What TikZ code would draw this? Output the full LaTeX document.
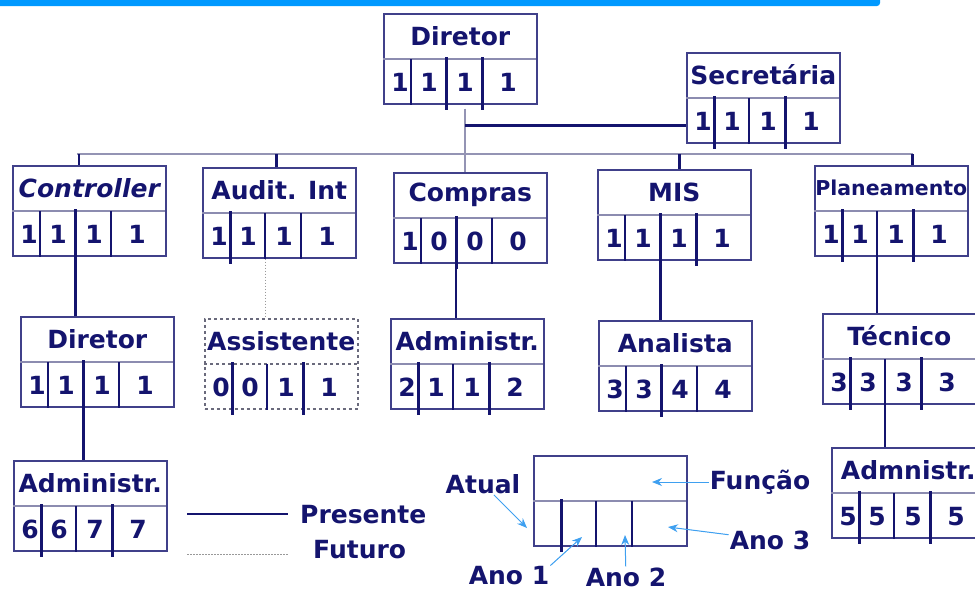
\documentclass[tikz,border=0pt]{standalone}
\usepackage{fontspec}
\setmainfont{DejaVu Sans}
\usetikzlibrary{calc,arrows.meta}

\definecolor{marinho}{HTML}{14146E}
\definecolor{moldura}{HTML}{40408A}
\definecolor{divisao}{HTML}{8C8CB0}
\definecolor{cinzento}{HTML}{9494B4}
\definecolor{celeste}{HTML}{0099FF}
\definecolor{azulseta}{HTML}{3FA0F0}

\tikzset{
	caixa/.style={draw=moldura, line width=1.6pt, minimum width=153pt, minimum height=90pt, inner sep=0pt, anchor=north west},
	linhadiv/.style={draw=divisao, line width=1.2pt},
	rotulo/.style={text=marinho, inner sep=1pt, font=\fontsize{25}{28}\selectfont\bfseries},
	grosso/.style={draw=marinho, line width=3pt},
	fino/.style={draw=marinho, line width=1.4pt},
	grossa/.style={grosso, shorten <=-2pt, shorten >=-5pt},
	fina/.style={fino},
	barramento/.style={draw=cinzento, line width=1.3pt},
	pontilhado/.style={draw=gray!80, line width=0.9pt, dash pattern=on 1.5pt off 1.5pt},
	seta/.style={-{Stealth[length=10pt,width=8pt]}, draw=azulseta, fill=azulseta, line width=1pt}
}

% caixa: [estilo]{nome}{x,y}{funcao}{numeros}{divisorias}
\newcommand{\caixa}[6][]{%
	\node[caixa,#1] (#2) at (#3) {};
	\coordinate (#2-h) at ($(#2.north west)+(0,46)$);
	\draw[linhadiv,#1] (#2-h) -- ++(153,0);
	\node[rotulo] (#2-t) at ($(#2.north)+(0,23)$) {#4};
	\foreach \s [count=\i] in {#6} {
		\pgfmathsetmacro\dx{{28,63,99}[\i-1]}
		\coordinate (#2-d\i) at ($(#2.south west)+(\dx,0)$);
		\draw[\s] ($(#2-h)+(\dx,0)$) -- (#2-d\i);
	}
	\foreach \n [count=\i] in {#5} {
		\pgfmathsetmacro\dx{{17,46,82,125}[\i-1]}
		\node[rotulo] (#2-n\i) at ($(#2.south west)+(\dx,-22)$) {\n};
	}
}

\begin{document}
\begin{tikzpicture}[>=stealth, x=1pt, y=-1pt]
	\useasboundingbox (0,0) rectangle (975,592);
	\fill[celeste, rounded corners=3pt] (-5,-5) rectangle (880,6);

	% Caixas
	\caixa{dir}{383,13}{Diretor}{1,1,1,1}{fina,grossa,grossa}
	\caixa{sec}{686,52}{Secretária}{1,1,1,1}{grossa,fina,grossa}
	\caixa{ctrl}{12,165}{\itshape Controller}{1,1,1,1}{fina,grossa,fina}
	\caixa{aud}{202,167}{Audit. Int}{1,1,1,1}{grossa,fina,fina}
	\caixa{comp}{393,172}{Compras}{1,0,0,0}{fina,grossa,fina}
	\caixa{mis}{597,169}{MIS}{1,1,1,1}{fina,grossa,grossa}
	\caixa{plan}{814,165}{\fontsize{20.5}{24}\selectfont Planeamento}{1,1,1,1}{grossa,fina,grossa}
	\caixa{dir2}{20,316}{Diretor}{1,1,1,1}{fina,grossa,fina}
	\caixa[draw=gray!80!marinho, dashed]{assis}{204,318}{Assistente}{0,0,1,1}{grossa,fina,grossa}
	\caixa{adm1}{390,318}{Administr.}{2,1,1,2}{grossa,fina,grossa}
	\caixa{anal}{598,320}{Analista}{3,3,4,4}{fina,grossa,fina}
	\caixa{tec}{822,313}{Técnico}{3,3,3,3}{grossa,fina,grossa}
	\caixa{adm0}{13,460}{Administr.}{6,6,7,7}{grossa,fina,grossa}
	\caixa{adm5}{831,447}{Admnistr.}{5,5,5,5}{grossa,fina,grossa}
	\caixa{leg}{533,455}{}{}{grossa,fina,fina}

	% Ligações ao diretor
	\coordinate (eixo) at ($(dir.south west)+(82,4)$);
	\coordinate (sec-e) at ($(sec.north west)+(0,73)$);
	\draw[barramento] (eixo) -- (eixo |- comp.north);
	\draw[grosso] (eixo |- sec-e) -- (sec-e);

	% Barramento
	\coordinate (b-ctrl) at (79,154);
	\coordinate (b-aud) at (276,154);
	\coordinate (b-mis) at (679,154);
	\coordinate (b-plan) at (912,154);
	\draw[barramento] ([xshift=-2pt]b-ctrl) -- ([xshift=1pt]b-plan);
	\draw[fino] (b-ctrl) -- (b-ctrl |- ctrl.north);
	\draw[grosso] (b-aud) -- (b-aud |- aud.north);
	\draw[grosso] (b-mis) -- (b-mis |- mis.north);
	\draw[grosso] (b-plan) -- (b-plan |- plan.north);

	% Subordinados
	\draw[grosso] (ctrl-d2) -- (ctrl-d2 |- dir2.north);
	\draw[grosso] (dir2-d2) -- (dir2-d2 |- adm0.north);
	\draw[pontilhado] (aud-d2) -- (aud-d2 |- assis.north);
	\draw[fino] (comp-d2) -- (comp-d2 |- adm1.north);
	\draw[grosso] (mis-d2) -- (mis-d2 |- anal.north);
	\draw[fino] (plan-d2) -- (plan-d2 |- tec.north);
	\draw[fino] (tec-d2) -- (tec-d2 |- adm5.north);

	% Legenda
	\node[rotulo, anchor=west] (pres) at (299,515) {Presente};
	\node[rotulo, anchor=west] (fut) at (312,550) {Futuro};
	\coordinate (p1) at (187,514);
	\coordinate (f1) at (187,554);
	\draw[fino] (p1) -- (p1 -| 288,0);
	\draw[pontilhado] (f1) -- (f1 -| 288,0);

	\node[rotulo] (atual) at (483,484) {Atual};
	\node[rotulo] (funcao) at (760,482) {Função};
	\node[rotulo] (ano3) at (770,540) {Ano 3};
	\node[rotulo] (ano1) at (509,576) {Ano 1};
	\node[rotulo] (ano2) at (626,577) {Ano 2};
	\coordinate (alvo-a) at (527,528);
	\coordinate (alvo-f) at (652,482);
	\coordinate (alvo-3) at (668,527);
	\coordinate (alvo-1) at (582,537);
	\coordinate (alvo-2) at (625,535);
	\draw[seta] (atual) -- (alvo-a);
	\draw[seta] (funcao) -- (alvo-f);
	\draw[seta] (ano3) -- (alvo-3);
	\draw[seta] (ano1.north east) -- (alvo-1);
	\draw[seta] (ano2) -- (alvo-2);
\end{tikzpicture}
\end{document}
